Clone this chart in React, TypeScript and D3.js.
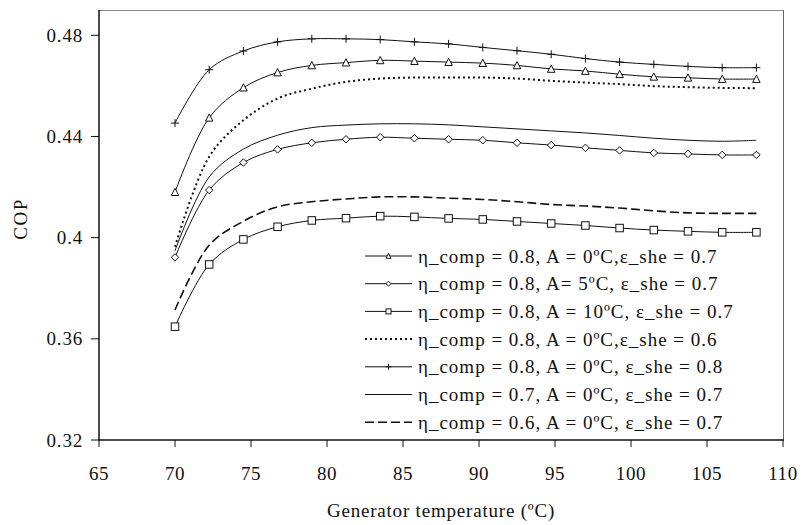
import React from 'react';
import * as d3 from 'd3';

const temps = [70, 72.25, 74.5, 76.75, 79, 81.25, 83.5, 85.75, 88, 90.25, 92.5, 94.75, 97, 99.25, 101.5, 103.75, 106, 108.25];

const copTriangle = [0.418, 0.4474, 0.4593, 0.4653, 0.4681, 0.4692, 0.4701, 0.4698, 0.4694, 0.469, 0.4681, 0.4667, 0.4659, 0.4646, 0.4636, 0.4632, 0.4627, 0.4627];
const copDiamond = [0.3922, 0.4188, 0.4297, 0.4349, 0.4375, 0.4389, 0.4397, 0.4393, 0.4389, 0.4385, 0.4375, 0.4366, 0.4355, 0.4345, 0.4335, 0.4331, 0.4327, 0.4327];
const copSquare = [0.3648, 0.3894, 0.3993, 0.4043, 0.4068, 0.4077, 0.4085, 0.4082, 0.4076, 0.4072, 0.4064, 0.4056, 0.4048, 0.4038, 0.403, 0.4025, 0.4021, 0.4021];
const copDotted = [0.3964, 0.432, 0.4464, 0.455, 0.4589, 0.4616, 0.4629, 0.4633, 0.4633, 0.4633, 0.4629, 0.462, 0.4613, 0.4607, 0.4599, 0.4595, 0.4592, 0.4591];
const copPlus = [0.4453, 0.4664, 0.4738, 0.4774, 0.4786, 0.4786, 0.4783, 0.4774, 0.4766, 0.4752, 0.4739, 0.4725, 0.4708, 0.4694, 0.4685, 0.4677, 0.4672, 0.4672];
const copEta07 = [0.3948, 0.424, 0.435, 0.4405, 0.4435, 0.4445, 0.445, 0.445, 0.4446, 0.4438, 0.443, 0.4422, 0.4414, 0.4404, 0.4393, 0.4385, 0.4381, 0.4385];
const copEta06 = [0.3714, 0.397, 0.4065, 0.4122, 0.4142, 0.4153, 0.4161, 0.4161, 0.4156, 0.4151, 0.4142, 0.4131, 0.4125, 0.4117, 0.4106, 0.4098, 0.4096, 0.4096];

const legendLabels = [
  'η_comp = 0.8, A = 0ºC,ε_she = 0.7',
  'η_comp = 0.8, A= 5ºC, ε_she = 0.7',
  'η_comp = 0.8, A = 10ºC, ε_she = 0.7',
  'η_comp = 0.8, A = 0ºC,ε_she = 0.6',
  'η_comp = 0.8, A = 0ºC, ε_she = 0.8',
  'η_comp = 0.7, A = 0ºC, ε_she = 0.7',
  'η_comp = 0.6, A = 0ºC, ε_she = 0.7',
];

const xTicks = [65, 70, 75, 80, 85, 90, 95, 100, 105, 110];
const yTicks = [0.32, 0.36, 0.4, 0.44, 0.48];
const yTickLabels = ['0.32', '0.36', '0.4', '0.44', '0.48'];

const xTitle = 'Generator temperature (ºC)';
const yTitle = 'COP';

type Marker = 'triangle' | 'diamond' | 'square' | 'plus' | 'none';

const seriesList: { values: number[]; marker: Marker; dash?: string; width: number }[] = [
  { values: copTriangle, marker: 'triangle', width: 1 },
  { values: copDiamond, marker: 'diamond', width: 1 },
  { values: copSquare, marker: 'square', width: 1 },
  { values: copDotted, marker: 'none', dash: '2,3', width: 2 },
  { values: copPlus, marker: 'plus', width: 1 },
  { values: copEta07, marker: 'none', width: 1 },
  { values: copEta06, marker: 'none', dash: '9,4', width: 1.6 },
];

const FONT = "'Liberation Serif', monospace";
const INK = '#111';
const FS = 19;

function T({ x, y, anchor, rotate, spacing, children }: { x: number; y: number; anchor?: string; rotate?: number; spacing?: number; children: React.ReactNode }) {
  return (
    <text
      x={rotate ? 0 : x}
      y={rotate ? 0 : y}
      transform={rotate ? `translate(${x},${y}) rotate(${rotate})` : undefined}
      fontSize={FS}
      textAnchor={anchor || 'start'}
      style={{ fontFamily: FONT, fill: INK, letterSpacing: `${spacing || 0}px` }}
    >
      {children}
    </text>
  );
}

function MarkerShape({ kind, cx, cy, s }: { kind: Marker; cx: number; cy: number; s: number }) {
  if (kind === 'triangle') {
    const h = s * 0.9;
    const pts = `${cx},${cy - h / 2 - 0.5} ${cx - s / 2},${cy + h / 2} ${cx + s / 2},${cy + h / 2}`;
    return <polygon points={pts} fill="#fff" stroke={INK} strokeWidth={1} />;
  }
  if (kind === 'diamond') {
    const r = s / 2;
    const pts = `${cx},${cy - r} ${cx + r},${cy} ${cx},${cy + r} ${cx - r},${cy}`;
    return <polygon points={pts} fill="#fff" stroke={INK} strokeWidth={1} />;
  }
  if (kind === 'square') {
    const r = s / 2;
    return <rect x={cx - r} y={cy - r} width={s} height={s} fill="#fff" stroke={INK} strokeWidth={1} />;
  }
  if (kind === 'plus') {
    const r = s / 2;
    return (
      <g stroke={INK} strokeWidth={1}>
        <line x1={cx - r} y1={cy} x2={cx + r} y2={cy} />
        <line x1={cx} y1={cy - r} x2={cx} y2={cy + r} />
      </g>
    );
  }
  return null;
}

export default function App() {
  const left = 99;
  const right = 783;
  const top = 10;
  const bottom = 440;
  const x = d3.scaleLinear().domain([65, 110]).range([left, right]);
  const y = d3.scaleLinear().domain([0.32, 0.49]).range([bottom, top]);

  const lineGen = d3
    .line<number>()
    .x((_, i) => x(temps[i]))
    .y((d) => y(d))
    .curve(d3.curveCatmullRom.alpha(0.5));

  const legX1 = 365;
  const legX2 = 412;
  const legTextX = 418;
  const legY0 = 256;
  const legDy = 27.7;

  return (
    <svg width={802} height={525} style={{ position: 'absolute', left: 0, top: 0, background: '#fff' }}>
      <rect x={0} y={0} width={802} height={525} fill="#fff" />
      {/* frame */}
      <line x1={left} y1={top + 0.5} x2={right} y2={top + 0.5} stroke="#888" strokeWidth={1} />
      <line x1={right + 0.5} y1={top} x2={right + 0.5} y2={bottom} stroke="#666" strokeWidth={1} />
      <line x1={left} y1={top} x2={left} y2={bottom} stroke={INK} strokeWidth={1.5} />
      <line x1={left - 1} y1={bottom} x2={right + 1} y2={bottom} stroke={INK} strokeWidth={1.5} />

      {/* y ticks */}
      {yTicks.map((t, i) => (
        <g key={'y' + i}>
          <line x1={left - 8} y1={y(t)} x2={left} y2={y(t)} stroke={INK} strokeWidth={1} />
          <T x={83} y={y(t) + 6.5} anchor="end" spacing={0.8}>
            {yTickLabels[i]}
          </T>
        </g>
      ))}
      {/* x ticks */}
      {xTicks.map((t, i) => (
        <g key={'x' + i}>
          <line x1={x(t)} y1={bottom} x2={x(t)} y2={bottom + 7} stroke={INK} strokeWidth={1} />
          <T x={x(t)} y={480} anchor="middle" spacing={0.6}>
            {String(t)}
          </T>
        </g>
      ))}

      <T x={(left + right) / 2} y={517} anchor="middle" spacing={0.8}>
        {xTitle}
      </T>
      <T x={27} y={(top + bottom) / 2 - 6} anchor="middle" rotate={-90} spacing={1.5}>
        {yTitle}
      </T>

      {/* series lines */}
      {seriesList.map((s, i) => (
        <path
          key={'l' + i}
          d={lineGen(s.values) || ''}
          fill="none"
          stroke={INK}
          strokeWidth={s.width}
          strokeDasharray={s.dash}
        />
      ))}
      {/* markers */}
      {seriesList.map((s, i) =>
        s.marker === 'none'
          ? null
          : s.values.map((v, j) => (
              <MarkerShape key={'m' + i + '-' + j} kind={s.marker} cx={x(temps[j])} cy={y(v)} s={s.marker === 'plus' ? 8 : 7.5} />
            ))
      )}

      {/* legend */}
      {seriesList.map((s, i) => {
        const ly = legY0 + i * legDy;
        return (
          <g key={'leg' + i}>
            <line x1={legX1} y1={ly} x2={legX2} y2={ly} stroke={INK} strokeWidth={s.width} strokeDasharray={s.dash} />
            {s.marker !== 'none' && <MarkerShape kind={s.marker} cx={(legX1 + legX2) / 2} cy={ly} s={s.marker === 'plus' ? 6 : 5} />}
            <T x={legTextX} y={ly + 6.5} spacing={1}>
              {legendLabels[i]}
            </T>
          </g>
        );
      })}
    </svg>
  );
}
